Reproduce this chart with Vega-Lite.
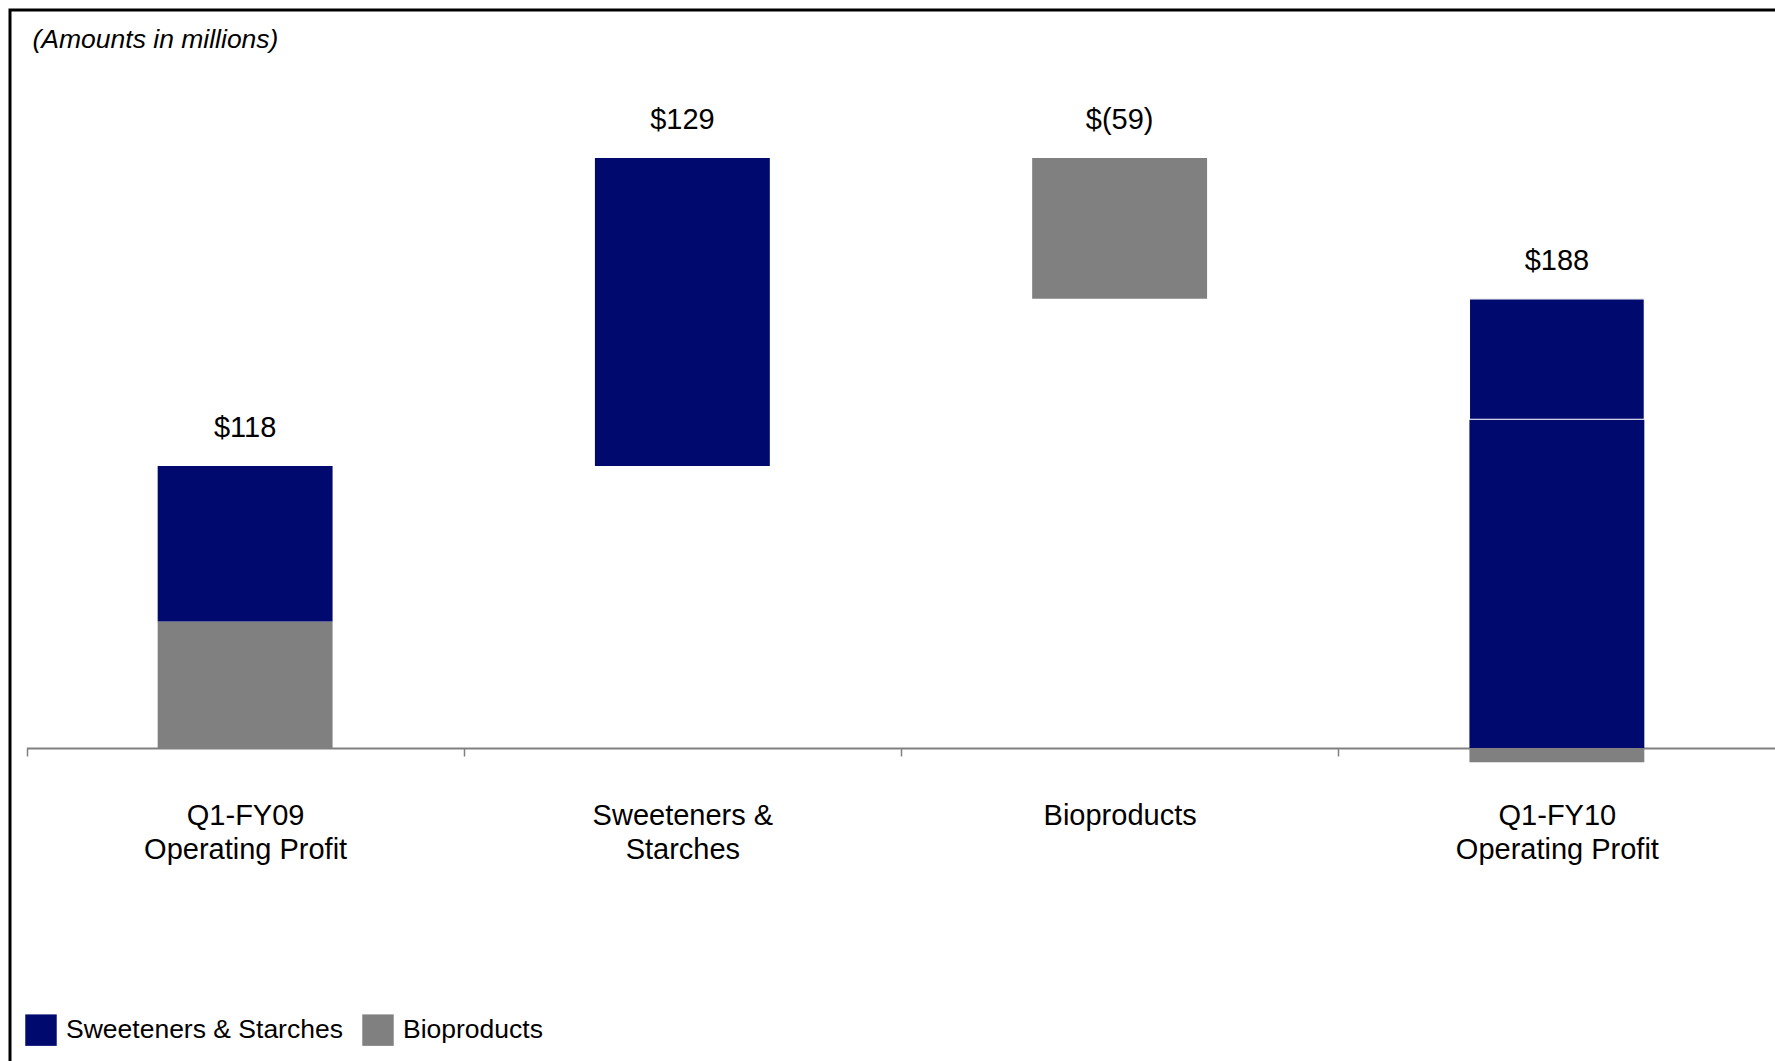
{
  "$schema": "https://vega.github.io/schema/vega-lite/v6.json",
  "autosize": "none",
  "width": 1765,
  "height": 1051,
  "padding": {"left": 10, "top": 10, "right": 0, "bottom": 0},
  "background": "white",
  "title": {
    "text": "(Amounts in millions)",
    "font": "Liberation Sans",
    "fontStyle": "italic",
    "fontWeight": "normal",
    "fontSize": 26.5,
    "color": "black",
    "anchor": "start",
    "frame": "group",
    "orient": "top",
    "offset": 0,
    "baseline": "alphabetic",
    "dx": 22.5,
    "dy": 64
  },
  "datasets": {
    "bars": [
      {"cat": "Q1-FY09|Operating Profit", "series": "Bioproducts", "lo": 0, "hi": 53},
      {"cat": "Q1-FY09|Operating Profit", "series": "Sweeteners & Starches", "lo": 53, "hi": 118},
      {"cat": "Sweeteners &|Starches", "series": "Sweeteners & Starches", "lo": 118, "hi": 247},
      {"cat": "Bioproducts", "series": "Bioproducts", "lo": 188, "hi": 247},
      {"cat": "Q1-FY10|Operating Profit", "series": "Sweeteners & Starches", "lo": 0, "hi": 137.6},
      {"cat": "Q1-FY10|Operating Profit", "series": "Sweeteners & Starches", "lo": 137.6, "hi": 188},
      {"cat": "Q1-FY10|Operating Profit", "series": "Bioproducts", "lo": -6, "hi": 0}
    ],
    "labels": [
      {"cat": "Q1-FY09|Operating Profit", "top": 118, "text": "$118"},
      {"cat": "Sweeteners &|Starches", "top": 247, "text": "$129"},
      {"cat": "Bioproducts", "top": 247, "text": "$(59)"},
      {"cat": "Q1-FY10|Operating Profit", "top": 188, "text": "$188"}
    ]
  },
  "layer": [
    {
      "data": {"name": "bars"},
      "mark": {"type": "bar", "strokeWidth": 0},
      "encoding": {
        "x": {
          "field": "cat",
          "type": "nominal",
          "sort": null,
          "scale": {"paddingInner": 0.6, "paddingOuter": 0.3, "range": [16.5, 1765.5]},
          "axis": {
            "title": null,
            "orient": "bottom",
            "offset": -313,
            "labelExpr": "split(datum.label, '|')",
            "labelAngle": 0,
            "labelFont": "Liberation Sans",
            "labelFontSize": 29,
            "labelColor": "black",
            "labelBaseline": "alphabetic",
            "labelLineHeight": 34,
            "labelPadding": 68,
            "labelLimit": 0,
            "labelOverlap": false,
            "tickOffset": -218.6,
            "labelOffset": 218.6,
            "domainColor": "#808080",
            "domainWidth": 2,
            "tickColor": "#808080",
            "tickWidth": 1.5,
            "tickSize": 8,
            "grid": false
          }
        },
        "y": {
          "field": "lo",
          "type": "quantitative",
          "scale": {"domain": [-131, 308.9], "nice": false, "zero": false},
          "axis": null
        },
        "y2": {"field": "hi"},
        "color": {
          "field": "series",
          "type": "nominal",
          "scale": {"domain": ["Sweeteners & Starches", "Bioproducts"], "range": ["#00096E", "#808080"]},
          "legend": {
            "title": null,
            "orient": "none",
            "direction": "horizontal",
            "legendX": 15,
            "legendY": 1004,
            "padding": 0,
            "symbolType": "square",
            "symbolSize": 990,
            "symbolStrokeWidth": 0,
            "symbolOpacity": 1,
            "labelFont": "Liberation Sans",
            "labelFontSize": 26.5,
            "labelColor": "black",
            "labelOffset": 9,
            "columnPadding": 19,
            "labelLimit": 0
          }
        },
        "stroke": {
          "condition": {"test": "datum.cat == 'Q1-FY10|Operating Profit' && datum.lo > 0", "value": "white"},
          "value": null
        },
        "strokeWidth": {
          "condition": {"test": "datum.cat == 'Q1-FY10|Operating Profit' && datum.lo > 0", "value": 1.2},
          "value": 0
        }
      }
    },
    {
      "data": {"name": "labels"},
      "mark": {"type": "text", "font": "Liberation Sans", "fontSize": 29, "color": "black", "baseline": "alphabetic", "align": "center", "dy": -29},
      "encoding": {
        "x": {"field": "cat", "type": "nominal", "sort": null},
        "y": {"field": "top", "type": "quantitative"},
        "text": {"field": "text"}
      }
    }
  ],
  "config": {
    "view": {"stroke": "black", "strokeWidth": 3, "strokeDash": [1765, 2816, 1051]}
  }
}
